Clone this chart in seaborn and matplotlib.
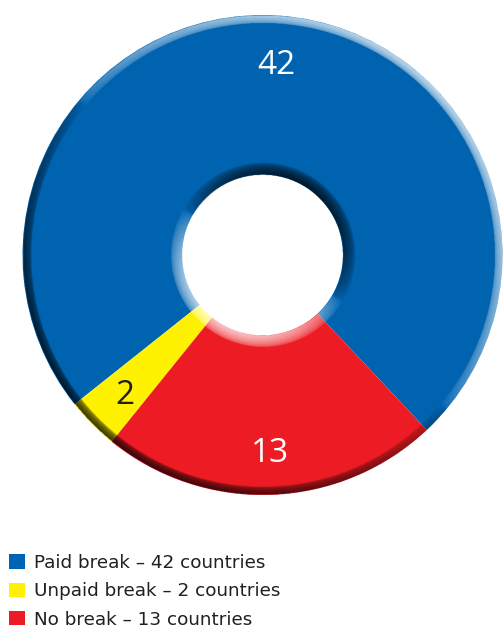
import numpy as np
import matplotlib
matplotlib.use("Agg")
import matplotlib.pyplot as plt
from matplotlib.patches import Patch
import seaborn as sns

# Data
categories = ["Paid break", "Unpaid break", "No break"]
countries = [42, 2, 13]
legend_labels = ["Paid break \u2013 42 countries",
                 "Unpaid break \u2013 2 countries",
                 "No break \u2013 13 countries"]
slice_colors = ["#0063B0", "#FFF200", "#ED1C24"]
label_colors = ["white", "#231F20", "white"]

sns.set_theme(style="white")
plt.rcParams["font.family"] = ["DejaVu Sans"]
palette = sns.color_palette(slice_colors)

W, H = 503, 627
fig = plt.figure(figsize=(W / 100, H / 100), dpi=100)
fig.patch.set_facecolor("white")

cx, cy, R = 262.5, 255.0, 240.0
ax = fig.add_axes([(cx - R) / W, (H - cy - R) / H, 2 * R / W, 2 * R / H])

hole = 0.335
wedges, texts = ax.pie(
    countries,
    colors=palette,
    startangle=-46.8,
    counterclock=True,
    labels=[str(v) for v in countries],
    labeldistance=0.81,
    wedgeprops=dict(width=1 - hole, edgecolor="none", linewidth=0),
    textprops=dict(fontsize=24, family=["Open Sans", "DejaVu Sans"]),
)
for t, c in zip(texts, label_colors):
    t.set_ha("center")
    t.set_va("center_baseline")
    t.set_color(c)
    t.set_zorder(5)

# Bevel shading on the ring rims: light from the upper right
n = 900
g = np.linspace(-1, 1, n)
X, Y = np.meshgrid(g, g[::-1])
r = np.hypot(X, Y)
th = np.arctan2(Y, X)


def band(dist, width, power):
    d = np.clip(dist / width, 0, None)
    return np.where(d <= 1, (1 - d) ** power, 0.0)


outer = band(1 - r, 0.034, 0.6) * np.cos(th - np.radians(50))
inner = band(r - hole, 0.05, 0.9) * -np.cos(th - np.radians(60))
v = outer + inner
v = np.sign(v) * np.abs(v) ** 0.5
inside = (r <= 1) & (r >= hole)
rgba = np.zeros((n, n, 4))
light = v > 0
rgba[light, :3] = 1.0
rgba[..., 3] = np.where(light, 0.75 * v, 0.78 * -v)
rgba[~inside, 3] = 0
ax.imshow(rgba, extent=(-1, 1, -1, 1), interpolation="bilinear", zorder=3)

ax.set_xlim(-1, 1)
ax.set_ylim(-1, 1)
ax.set_aspect("equal")
ax.axis("off")

handles = [Patch(facecolor=c, edgecolor="none") for c in palette]
fig.legend(
    handles, legend_labels,
    loc="upper left",
    bbox_to_anchor=(9 / W, (H - 554) / H),
    frameon=False,
    fontsize=13.2,
    handlelength=0.85,
    handleheight=0.85,
    handletextpad=0.5,
    labelspacing=0.56,
    borderpad=0,
    borderaxespad=0,
    labelcolor="#231F20",
)

fig.savefig("out.png", dpi=100, facecolor="white")
